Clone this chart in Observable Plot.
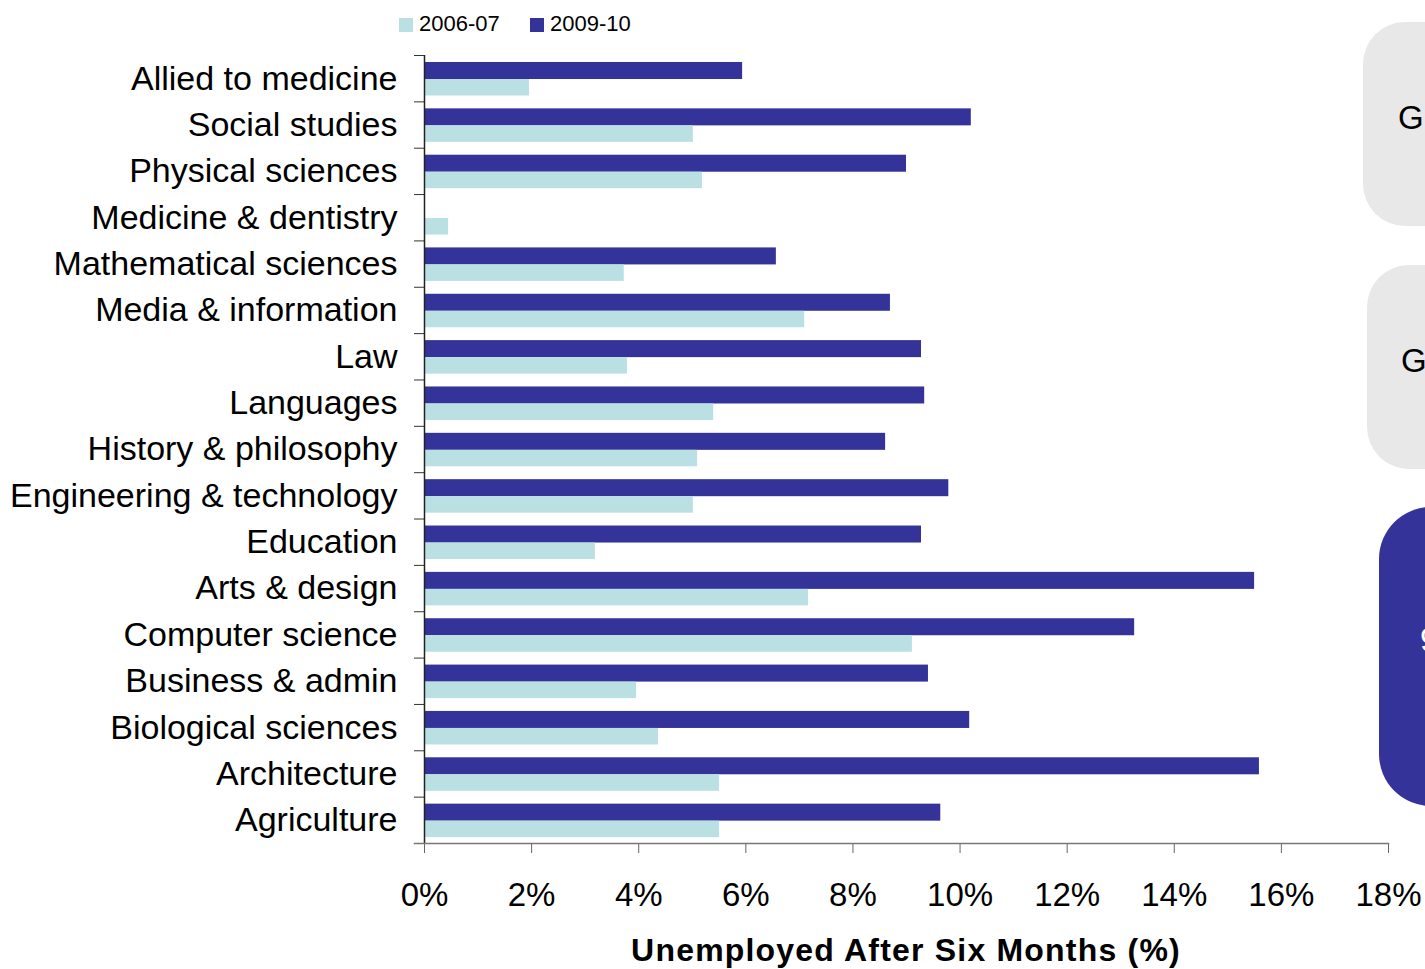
<!DOCTYPE html>
<html>
<head>
<meta charset="utf-8">
<script src="https://cdn.jsdelivr.net/npm/d3@7"></script>
<script src="https://cdn.jsdelivr.net/npm/@observablehq/plot@0.6"></script>
<style>
  body { margin: 0; background: #fff; font-family: "Liberation Sans", Arial, sans-serif; }
  #wrap { position: relative; width: 1425px; height: 969px; overflow: hidden; }
  #legend { position: relative; height: 44px; font-size: 22px; color: #000; }
  #legend .sw { position: absolute; top: 18px; width: 14px; height: 14px; }
  #legend .lb { position: absolute; top: 10px; line-height: 28px; }
  #chart svg { display: block; }
  #title { height: 45px; line-height: 52px; font-size: 32px; font-weight: bold; text-align: center;
           width: 964px; margin-left: 424px; letter-spacing: 1.2px; }
  .box { position: absolute; border-radius: 42px; }
  .box span { position: absolute; font-size: 33px; line-height: 40px; }
</style>
</head>
<body>
<div id="wrap">
  <div id="legend"></div>
  <div id="chart"></div>
  <div id="title">Unemployed After Six Months (%)</div>
  <div class="box" style="left:1363px; top:22px; width:120px; height:204px; background:#e8e8e8;"><span style="left:35px; top:76px; color:#000;">G</span></div>
  <div class="box" style="left:1367px; top:265px; width:120px; height:204px; background:#e8e8e8;"><span style="left:34px; top:76px; color:#000;">G</span></div>
  <div class="box" style="left:1379px; top:507px; width:120px; height:299px; background:#333399; border-radius:52px;"><span style="left:41px; top:113px; color:#fff;">9</span></div>
</div>
<script>
const categories = [
  "Allied to medicine", "Social studies", "Physical sciences", "Medicine & dentistry",
  "Mathematical sciences", "Media & information", "Law", "Languages",
  "History & philosophy", "Engineering & technology", "Education", "Arts & design",
  "Computer science", "Business & admin", "Biological sciences", "Architecture", "Agriculture"
];
const v2006 = [1.96, 5.02, 5.19, 0.45, 3.73, 7.10, 3.79, 5.40, 5.10, 5.02, 3.19, 7.17, 9.11, 3.96, 4.37, 5.51, 5.51];
const v2009 = [5.94, 10.21, 9.00, 0, 6.57, 8.70, 9.28, 9.34, 8.61, 9.79, 9.28, 15.50, 13.26, 9.41, 10.18, 15.59, 9.64];
const seriesNames = ["2006-07", "2009-10"];
const seriesColors = ["#BBE0E3", "#333399"];
const xTicks = [0, 2, 4, 6, 8, 10, 12, 14, 16, 18];

// legend
const legend = document.getElementById("legend");
const legendPos = [[399, 419], [530, 550]];
seriesNames.forEach((s, i) => {
  const sw = document.createElement("div");
  sw.className = "sw"; sw.style.left = legendPos[i][0] + "px"; sw.style.background = seriesColors[i];
  const lb = document.createElement("div");
  lb.className = "lb"; lb.style.left = legendPos[i][1] + "px"; lb.textContent = s;
  legend.appendChild(sw); legend.appendChild(lb);
});

const rows = categories.flatMap((c, i) => [
  {category: c, series: seriesNames[0], value: v2006[i]},
  {category: c, series: seriesNames[1], value: v2009[i]}
]);

const W = 1425, H = 880, mT = 11, mB = 81, mL = 424, mR = 37;
const step = (H - mT - mB) / categories.length;

const chart = Plot.plot({
  width: W, height: H,
  marginTop: mT, marginBottom: mB, marginLeft: mL, marginRight: mR,
  style: {fontFamily: "'Liberation Sans', Arial, sans-serif", fontSize: "32px", color: "#000", background: "transparent", overflow: "visible"},
  x: {domain: [0, 18]},
  y: {domain: categories, padding: 0, round: false},
  color: {domain: seriesNames, range: seriesColors},
  marks: [
    Plot.barX(rows.filter(d => d.series === seriesNames[1]),
      {x: "value", y: "category", fill: "series", insetTop: step * 0.151, insetBottom: step * 0.482}),
    Plot.barX(rows.filter(d => d.series === seriesNames[0]),
      {x: "value", y: "category", fill: "series", insetTop: step * 0.518, insetBottom: step * 0.126}),
    Plot.axisY({tickSize: 0, tickPadding: 27, fontSize: 34, label: null}),
    Plot.axisY({tickSize: 10, tickFormat: () => "", dy: -step / 2, stroke: "#333", label: null}),
    Plot.axisX({ticks: xTicks, tickFormat: d => d + "%", tickSize: 10, tickPadding: 29, stroke: "#666", fontSize: 33, label: null}),
    Plot.ruleX([0], {stroke: "#222", strokeWidth: 1.5}),
    Plot.frame({anchor: "bottom", stroke: "#777", strokeWidth: 1.5, insetLeft: -10})
  ]
});
document.getElementById("chart").appendChild(chart);
</script>
</body>
</html>
